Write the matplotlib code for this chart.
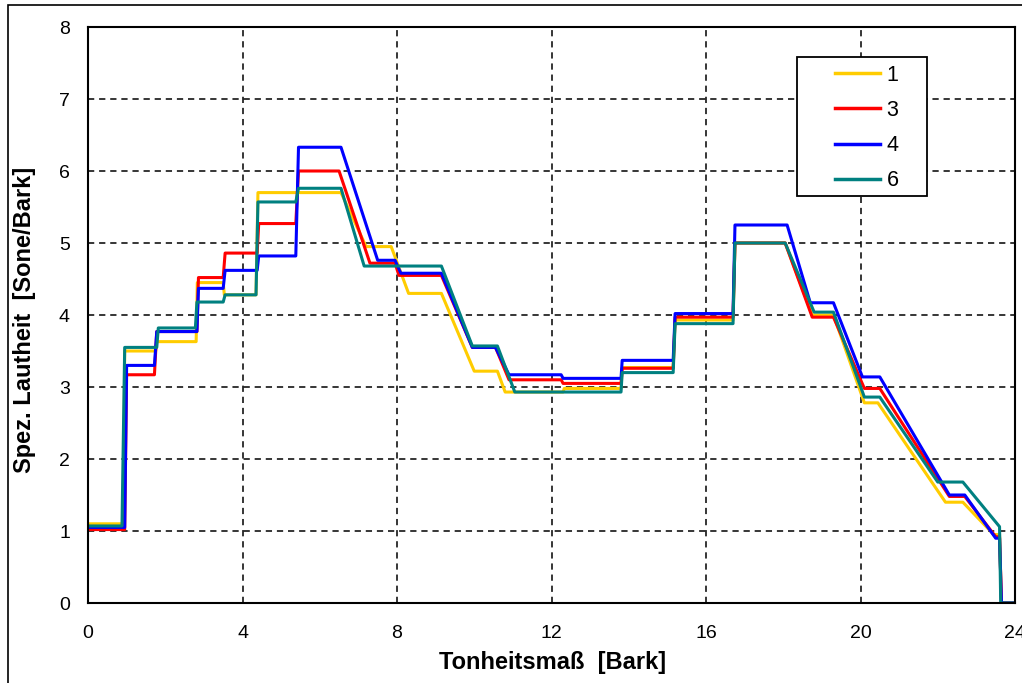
import matplotlib.pyplot as plt
from matplotlib.patches import Rectangle

# Spezifische Lautheit
x_1 = [0, 0.92, 0.95, 1.75, 1.78, 2.8, 2.83, 3.5, 3.53, 4.35, 4.4, 6.55, 7.2, 7.85, 8.3, 9.15, 10.0, 10.6, 10.8,
       12.3, 12.33, 13.8, 13.83, 15.15, 15.2, 16.7, 16.75, 18.05, 18.75, 19.3, 20.1, 20.45, 22.2, 22.65, 23.45,
       23.6, 23.65, 24]
y_1 = [1.1, 1.1, 3.5, 3.5, 3.63, 3.63, 4.45, 4.45, 4.28, 4.28, 5.7, 5.7, 4.95, 4.95, 4.3, 4.3, 3.22, 3.22, 2.93,
       2.93, 2.98, 2.98, 3.27, 3.27, 3.93, 3.93, 5.0, 5.0, 4.0, 4.0, 2.78, 2.78, 1.4, 1.4, 0.95,
       0.95, 0, 0]

x_3 = [0, 0.95, 1.0, 1.72, 1.78, 2.82, 2.86, 3.5, 3.55, 4.38, 4.42, 5.38, 5.45, 6.5, 7.3, 7.95, 8.05, 9.15, 9.95,
       10.55, 10.9, 12.25, 12.3, 13.8, 13.83, 15.15, 15.2, 16.7, 16.75, 18.05, 18.75, 19.3, 20.1, 20.5, 22.3,
       22.7, 23.5, 23.6, 23.65, 24]
y_3 = [1.02, 1.02, 3.17, 3.17, 3.77, 3.77, 4.52, 4.52, 4.86, 4.86, 5.27, 5.27, 6.0, 6.0, 4.72, 4.72, 4.55, 4.55, 3.55,
       3.55, 3.1, 3.1, 3.05, 3.05, 3.26, 3.26, 3.97, 3.97, 5.0, 5.0, 3.97, 3.97, 2.98, 2.98, 1.48,
       1.48, 0.92, 0.92, 0, 0]

x_4 = [0, 0.95, 1.0, 1.72, 1.78, 2.82, 2.86, 3.5, 3.55, 4.38, 4.42, 5.38, 5.45, 6.55, 7.5, 7.95, 8.1, 9.15, 9.95,
       10.55, 10.9, 12.25, 12.3, 13.8, 13.83, 15.15, 15.2, 16.7, 16.75, 18.1, 18.7, 19.3, 20.05, 20.5, 22.3,
       22.7, 23.5, 23.6, 23.65, 24]
y_4 = [1.05, 1.05, 3.3, 3.3, 3.77, 3.77, 4.37, 4.37, 4.62, 4.62, 4.82, 4.82, 6.33, 6.33, 4.76, 4.76, 4.58, 4.58, 3.55,
       3.55, 3.17, 3.17, 3.12, 3.12, 3.37, 3.37, 4.02, 4.02, 5.25, 5.25, 4.17, 4.17, 3.14, 3.14, 1.5,
       1.5, 0.9, 0.9, 0, 0]

x_6 = [0, 0.88, 0.95, 1.78, 1.82, 2.78, 2.82, 3.5, 3.55, 4.35, 4.4, 5.38, 5.45, 6.55, 7.15, 9.15, 9.95, 10.6, 11.05,
       13.8, 13.83, 15.15, 15.2, 16.7, 16.75, 18.05, 18.8, 19.3, 20.1, 20.5, 22.0, 22.65, 23.6, 23.63, 24]
y_6 = [1.07, 1.07, 3.55, 3.55, 3.82, 3.82, 4.18, 4.18, 4.28, 4.28, 5.57, 5.57, 5.76, 5.76, 4.68, 4.68, 3.57, 3.57, 2.93,
       2.93, 3.2, 3.2, 3.88, 3.88, 5.0, 5.0, 4.04, 4.04, 2.86, 2.86, 1.68, 1.68, 1.06, 0, 0]

x_ticks = [0, 4, 8, 12, 16, 20, 24]
y_ticks = [0, 1, 2, 3, 4, 5, 6, 7, 8]

plt.rcParams['font.family'] = ['Liberation Sans', 'DejaVu Sans']
plt.rcParams['lines.scale_dashes'] = False

W, H = 1022, 683
fig = plt.figure(figsize=(W / 100, H / 100), dpi=100)
ax = fig.add_axes([88 / W, 1 - 603 / H, (1015 - 88) / W, (603 - 27) / H])

ax.plot(x_1, y_1, color='#FFCC00', lw=2.2, label='1')
ax.plot(x_3, y_3, color='#FF0000', lw=2.2, label='3')
ax.plot(x_4, y_4, color='#0000FF', lw=2.2, label='4')
ax.plot(x_6, y_6, color='#008080', lw=2.2, label='6')

ax.set_xlim(0, 24)
ax.set_ylim(0, 8)
ax.set_xticks(x_ticks)
ax.set_yticks(y_ticks)
ax.tick_params(length=0, labelsize=14, pad=16)
ax.tick_params(axis='y', pad=13)
ax.grid(True, color='black', lw=1.1, ls=(0, (4.5, 3.5)))
for s in ax.spines.values():
    s.set_linewidth(1.5)

fig.text(553 / W, 1 - 663 / H, 'Tonheitsmaß  [Bark]', fontsize=17, fontweight='bold',
         ha='center', va='center')
fig.text(25 / W, 1 - 320 / H, 'Spez. Lautheit  [Sone/Bark]', fontsize=17, fontweight='bold',
         ha='center', va='center', rotation=90)

# legend box
ax.add_patch(Rectangle((797 / W, 1 - 196 / H), 130 / W, 139 / H, transform=fig.transFigure,
                       facecolor='white', edgecolor='black', lw=1.3, zorder=5, clip_on=False))
leg = ax.legend(loc='upper left', bbox_to_anchor=(824 / W, 1 - 54 / H), bbox_transform=fig.transFigure,
                frameon=False, fontsize=15.5, handlelength=2.1, handletextpad=0.3, borderpad=0,
                labelspacing=0.66)
leg.set_zorder(6)
for l in leg.get_lines():
    l.set_linewidth(2.5)

# outer border
fig.patches.append(Rectangle((8 / W, -0.02), 1.05, (683 - 5) / H + 0.02, transform=fig.transFigure,
                             facecolor='none', edgecolor='black', lw=1.2))

fig.savefig('out.png', dpi=100)
